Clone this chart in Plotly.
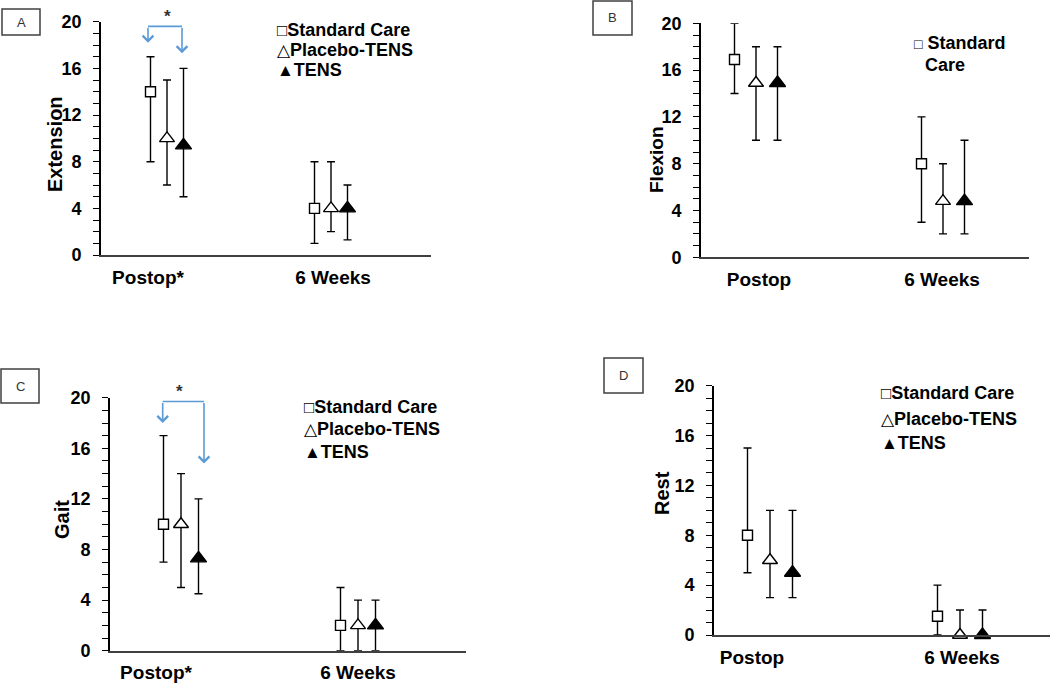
import plotly.graph_objects as go

W, H = 1050, 685

# ---------------- data ----------------
series = ["Standard Care", "Placebo-TENS", "TENS"]
cats_star = ["Postop*", "6 Weeks"]
cats_plain = ["Postop", "6 Weeks"]

# Panel A: Extension
ext_mean = [[14, 4], [10, 4], [9.4, 4]]
ext_low = [[8, 1], [6, 2], [5, 1.3]]
ext_high = [[17, 8], [15, 8], [16, 6]]

# Panel B: Flexion
flex_mean = [[16.9, 8], [14.9, 4.8], [14.9, 4.8]]
flex_low = [[14, 3], [10, 2], [10, 2]]
flex_high = [[20, 12], [18, 8], [18, 10]]

# Panel C: Gait
gait_mean = [[10, 2], [10, 2], [7.3, 2]]
gait_low = [[7, 0], [5, 0], [4.5, 0]]
gait_high = [[17, 5], [14, 4], [12, 4]]

# Panel D: Rest
rest_mean = [[8, 1.5], [6, 0], [5, 0]]
rest_low = [[5, 0], [3, 0], [3, 0]]
rest_high = [[15, 4], [10, 2], [10, 2]]

y_ticks = [0, 4, 8, 12, 16, 20]

# ---------------- layout geometry (pixels) ----------------
panels = [
    dict(name="A", title="Extension", cats=cats_star, mean=ext_mean, low=ext_low, high=ext_high,
         xl=101, xr=431, yt=21.7, yb=255, c=(167, 331), sp=16.5, lab=(148, 333),
         ytitle=(55, 144, 20), box=(2, 9, 40, 35),
         legend=[(275, 30), (275, 50), (275, 70)],
         bracket=dict(xl=148, xr=182, top=19.6, tl=18.2, tr=17.3, star=(167, 16))),
    dict(name="B", title="Flexion", cats=cats_plain, mean=flex_mean, low=flex_low, high=flex_high,
         xl=701, xr=1029, yt=23.3, yb=257.3, c=(756, 943), sp=21.5, lab=(759, 942),
         ytitle=(657, 160, 19), box=(593, 1, 632, 35),
         legend=None, bracket=None),
    dict(name="C", title="Gait", cats=cats_star, mean=gait_mean, low=gait_low, high=gait_high,
         xl=110, xr=466, yt=397.7, yb=650.7, c=(181, 358), sp=17.5, lab=(156, 358),
         ytitle=(62, 520, 20), box=(1, 369, 39, 403),
         legend=[(302, 406.7), (302, 429), (302, 451.7)],
         bracket=dict(xl=162.7, xr=204, top=19.7, tl=18.0, tr=14.8, star=(179, 392))),
    dict(name="D", title="Rest", cats=cats_plain, mean=rest_mean, low=rest_low, high=rest_high,
         xl=714, xr=1050, yt=385.7, yb=635, c=(770, 960), sp=22.5, lab=(752, 962),
         ytitle=(662, 493, 20), box=(604, 358, 643, 393),
         legend=[(879, 393.3), (879, 419), (879, 443)], bracket=None),
]

FONT = "Arial, Liberation Sans, Helvetica, sans-serif"
styles = [
    dict(symbol="square", color="white", size=10, line=dict(color="black", width=1.4)),
    dict(symbol="triangle-up", color="white", size=13, line=dict(color="black", width=1.4)),
    dict(symbol="triangle-up", color="black", size=14, line=dict(color="black", width=1.4)),
]
glyphs = ["□", "△", "▲"]

def fx(px):
    return px / W

def fy(py):
    return 1 - py / H

fig = go.Figure()
annotations = []
shapes = []

for i, p in enumerate(panels):
    k = "" if i == 0 else str(i + 1)
    xa, ya = "x" + k, "y" + k
    c1, c2 = p["c"]
    unit = c2 - c1
    off = p["sp"] / unit
    to_x = lambda px, c1=c1, unit=unit: (px - c1) / unit
    for s in range(3):
        xs = [g + (s - 1) * off for g in range(2)]
        m = p["mean"][s]
        lo = p["low"][s]
        hi = p["high"][s]
        fig.add_trace(go.Scatter(
            x=xs, y=m, mode="markers", name=series[s], showlegend=False,
            xaxis=xa, yaxis=ya, cliponaxis=False,
            marker=styles[s],
            error_y=dict(type="data", symmetric=False,
                         array=[h - v for h, v in zip(hi, m)],
                         arrayminus=[v - l for v, l in zip(m, lo)],
                         color="black", thickness=1.4, width=4),
        ))
    fig.layout["xaxis" + k] = dict(
        domain=[fx(p["xl"]), fx(p["xr"])], anchor=ya, automargin=False,
        range=[to_x(p["xl"]), to_x(p["xr"])],
        tickvals=[to_x(v) for v in p["lab"]], ticktext=p["cats"],
        ticks="", showline=True, linecolor="#404040", linewidth=1.6,
        showgrid=False, zeroline=False,
        tickfont=dict(family=FONT, size=19, color="black", weight="bold"),
        ticklabelstandoff=4,
    )
    fig.layout["yaxis" + k] = dict(
        domain=[fy(p["yb"]), fy(p["yt"])], anchor=xa, automargin=False,
        range=[0, 20], tickvals=y_ticks,
        ticks="outside", ticklen=6, tickwidth=1.2, tickcolor="black",
        minor=dict(dtick=1, ticks="outside", ticklen=6, tickwidth=1.2, tickcolor="black"),
        showline=True, linecolor="black", linewidth=1.6,
        showgrid=False, zeroline=False,
        tickfont=dict(family=FONT, size=18, color="black", weight="bold"),
        ticklabelstandoff=8,
    )
    # y title
    tx, ty, ts = p["ytitle"]
    annotations.append(dict(x=fx(tx), y=fy(ty), xref="paper", yref="paper",
                            xanchor="center", yanchor="middle",
                            text=p["title"], textangle=-90, showarrow=False,
                            font=dict(family=FONT, size=ts, color="black", weight="bold")))
    # panel label box
    bx0, by0, bx1, by1 = p["box"]
    shapes.append(dict(type="rect", xref="paper", yref="paper",
                       x0=fx(bx0), x1=fx(bx1), y0=fy(by1), y1=fy(by0),
                       line=dict(color="#404040", width=1.5)))
    annotations.append(dict(x=fx((bx0 + bx1) / 2), y=fy((by0 + by1) / 2), xref="paper", yref="paper",
                            xanchor="center", yanchor="middle",
                            text=p["name"], showarrow=False,
                            font=dict(family=FONT, size=13, color="#333333")))
    # legend (text box style)
    if p["legend"]:
        for s, (lx, ly) in enumerate(p["legend"]):
            annotations.append(dict(
                x=fx(lx), y=fy(ly), xref="paper", yref="paper", xanchor="left", yanchor="middle",
                text="<span style='font-size:17px;font-weight:normal'>" + glyphs[s] + "</span>" + series[s],
                showarrow=False, font=dict(family=FONT, size=18, color="black", weight="bold")))
    else:
        annotations.append(dict(
            x=fx(912), y=fy(43), xref="paper", yref="paper", xanchor="left", yanchor="middle",
            text="<span style='font-size:14px;font-weight:normal'>□</span> Standard",
            showarrow=False, font=dict(family=FONT, size=18, color="black", weight="bold")))
        annotations.append(dict(
            x=fx(923), y=fy(65), xref="paper", yref="paper", xanchor="left", yanchor="middle",
            text="Care", showarrow=False,
            font=dict(family=FONT, size=18, color="black", weight="bold")))
    # significance bracket
    b = p["bracket"]
    if b:
        blue = "#5b9bd5"
        xL, xR = to_x(b["xl"]), to_x(b["xr"])
        shapes.append(dict(type="line", xref=xa, yref=ya, x0=xL, x1=xR, y0=b["top"], y1=b["top"],
                           line=dict(color=blue, width=1.6)))
        for xx, tip in [(xL, b["tl"]), (xR, b["tr"])]:
            annotations.append(dict(x=xx, y=tip, ax=xx, ay=b["top"], xref=xa, yref=ya,
                                    axref=xa, ayref=ya, showarrow=True, text="",
                                    arrowhead=4, arrowsize=1.3, arrowwidth=1.6, arrowcolor=blue))
        sx, sy = b["star"]
        annotations.append(dict(x=fx(sx), y=fy(sy), xref="paper", yref="paper", text="*",
                                xanchor="center", yanchor="middle",
                                showarrow=False, font=dict(family=FONT, size=17, color="#333333", weight="bold")))

fig.update_layout(
    width=W, height=H, margin=dict(l=0, r=0, t=0, b=0, pad=0, autoexpand=False),
    paper_bgcolor="white", plot_bgcolor="white",
    annotations=annotations, shapes=shapes, showlegend=False,
)

fig.write_html("out.html", config={"displayModeBar": False},
               post_script="document.body.style.margin='0';document.body.style.overflow='hidden';")
